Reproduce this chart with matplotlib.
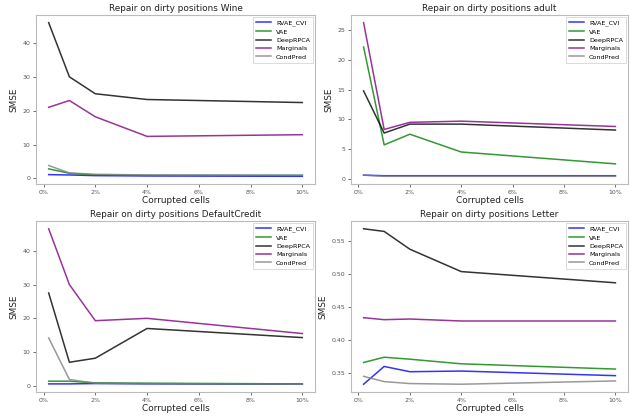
import matplotlib
matplotlib.use("Agg")
import matplotlib.pyplot as plt
from matplotlib.ticker import FuncFormatter

x = [0.2, 1, 2, 4, 10]
methods = ["RVAE_CVI", "VAE", "DeepRPCA", "Marginals", "CondPred"]
colors = ["blue", "green", "black", "purple", "gray"]

wine = {
    "RVAE_CVI": [1.1, 1.0, 0.8, 0.7, 0.6],
    "VAE": [2.8, 1.5, 1.0, 0.9, 0.9],
    "DeepRPCA": [46.0, 30.0, 25.0, 23.3, 22.4],
    "Marginals": [21.0, 23.0, 18.2, 12.4, 12.9],
    "CondPred": [3.8, 1.6, 1.2, 1.0, 0.9],
}
adult = {
    "RVAE_CVI": [0.6, 0.5, 0.5, 0.5, 0.5],
    "VAE": [22.2, 5.7, 7.5, 4.5, 2.5],
    "DeepRPCA": [14.8, 7.7, 9.2, 9.2, 8.2],
    "Marginals": [26.3, 8.3, 9.5, 9.7, 8.8],
    "CondPred": [0.6, 0.4, 0.4, 0.4, 0.4],
}
credit = {
    "RVAE_CVI": [0.6, 0.6, 0.7, 0.6, 0.5],
    "VAE": [1.4, 1.4, 0.9, 0.8, 0.6],
    "DeepRPCA": [27.5, 7.0, 8.2, 17.0, 14.3],
    "Marginals": [46.5, 30.0, 19.3, 20.0, 15.5],
    "CondPred": [14.2, 1.9, 0.8, 0.7, 0.5],
}
letter = {
    "RVAE_CVI": [0.333, 0.360, 0.352, 0.353, 0.346],
    "VAE": [0.366, 0.374, 0.371, 0.364, 0.356],
    "DeepRPCA": [0.569, 0.565, 0.538, 0.504, 0.487],
    "Marginals": [0.434, 0.431, 0.432, 0.429, 0.429],
    "CondPred": [0.345, 0.337, 0.334, 0.333, 0.338],
}
datasets = [("Wine", wine), ("adult", adult), ("DefaultCredit", credit), ("Letter", letter)]

fig = plt.figure(figsize=(6.31, 4.17), dpi=100)
W, H = 631, 417
rects = [(36, 15, 315, 184), (351, 15, 628, 184), (36, 221, 315, 392), (351, 221, 628, 392)]

for (name, d), (l, t, r, b) in zip(datasets, rects):
    ax = fig.add_axes([l / W, 1 - b / H, (r - l) / W, (b - t) / H])
    for m, c in zip(methods, colors):
        ax.plot(x, d[m], color=c, alpha=0.8, lw=1.1, label=m)
    ax.set_title("Repair on dirty positions " + name, fontsize=6.4, color="#222222", pad=3)
    ax.set_xlabel("Corrupted cells", fontsize=6.4, labelpad=1, color="#222222")
    ax.set_ylabel("SMSE", fontsize=6.4, labelpad=3, color="#222222")
    ax.set_xticks([0, 2, 4, 6, 8, 10])
    ax.xaxis.set_major_formatter(FuncFormatter(lambda v, p: "%d%%" % v))
    ax.tick_params(labelsize=4.5, colors="#555555", length=2.5, width=0.6, pad=1.5)
    for s in ax.spines.values():
        s.set_color("#bbbbbb")
        s.set_linewidth(0.8)
    leg = ax.legend(fontsize=4.6, loc="upper right", frameon=True, fancybox=False,
                    handlelength=2.3, borderpad=0.45, labelspacing=0.45, borderaxespad=0.35)
    leg.get_frame().set_edgecolor("#cccccc")
    leg.get_frame().set_linewidth(0.6)

fig.savefig("out.png", dpi=100)
